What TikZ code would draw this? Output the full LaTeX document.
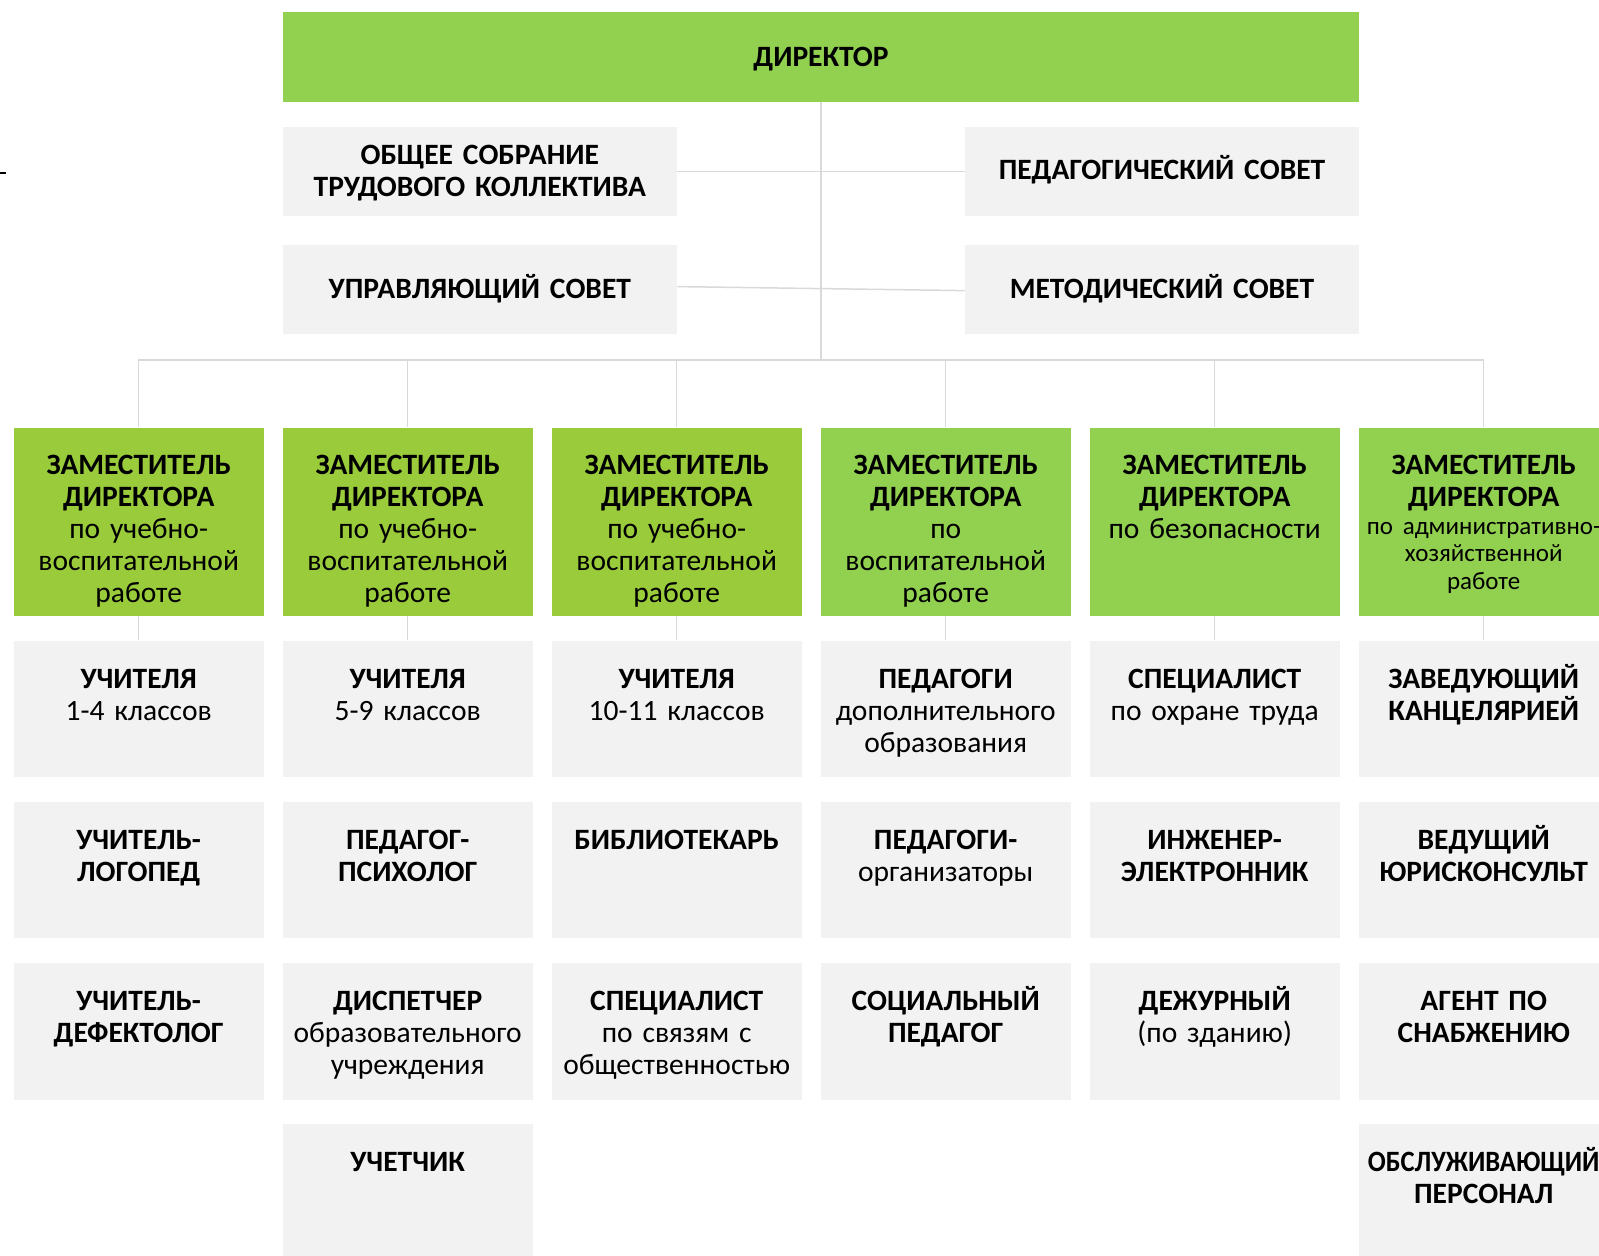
\documentclass[tikz,border=0pt]{standalone}
\usepackage{fontspec}
\setmainfont{Carlito}
\usepackage{tikz}
\usepackage{graphicx}
\definecolor{dirgreen}{HTML}{92D050}
\definecolor{depgreen}{HTML}{9ACB3B}
\definecolor{boxgrey}{HTML}{F2F2F2}
\definecolor{linegrey}{HTML}{D9D9D9}

\begin{document}
\begin{tikzpicture}[x=1pt, y=-1pt,
		top_style/.style={rectangle,fill=boxgrey,text width=394.6pt,align=center,inner sep=0pt,text height=53.3pt,text depth=36.4pt,font=\bfseries\fontsize{29.5}{32}\selectfont},
		top_style2/.style={top_style,text height=38pt,text depth=51.7pt},
		dir_style/.style={top_style,fill=dirgreen,text width=1076.9pt,text height=54.4pt,text depth=35.4pt},
		dep_style/.style={rectangle,fill=depgreen,anchor=north,text width=249.9pt,align=center,inner sep=0pt,text height=47pt,text depth=141.7pt,font=\fontsize{29.5}{32}\selectfont},
		dep_style1/.style={dep_style,fill=dirgreen},
		sub_style/.style={rectangle,fill=boxgrey,anchor=north,text width=249.9pt,align=center,inner sep=0pt,text height=48pt,text depth=88.7pt,font=\fontsize{29.5}{32}\selectfont},
		edge_style/.style={draw=linegrey,line width=1.5pt}]

	\useasboundingbox (0,0) rectangle (1599,1256);
	\clip (0,0) rectangle (1599,1256);

	\node[dir_style] (dir) at (821,57.1) {ДИРЕКТОР};
	\node[top_style2] (sob) at (479.8,171.4) {ОБЩЕЕ СОБРАНИЕ\\ТРУДОВОГО КОЛЛЕКТИВА};
	\node[top_style] (upr) at (479.8,289.6) {УПРАВЛЯЮЩИЙ СОВЕТ};
	\node[top_style] (ped) at (1162,171.4) {ПЕДАГОГИЧЕСКИЙ СОВЕТ};
	\node[top_style] (met) at (1162,289.6) {МЕТОДИЧЕСКИЙ СОВЕТ};
	\coordinate (bus) at (821,360);

	\node[dep_style] (d1) at (138.7,427.3) {\textbf{ЗАМЕСТИТЕЛЬ}\\\textbf{ДИРЕКТОРА}\\по учебно-\\воспитательной\\работе};
	\node[dep_style] (d2) at (407.7,427.3) {\textbf{ЗАМЕСТИТЕЛЬ}\\\textbf{ДИРЕКТОРА}\\по учебно-\\воспитательной\\работе};
	\node[dep_style] (d3) at (676.7,427.3) {\textbf{ЗАМЕСТИТЕЛЬ}\\\textbf{ДИРЕКТОРА}\\по учебно-\\воспитательной\\работе};
	\node[dep_style1] (d4) at (945.7,427.3) {\textbf{ЗАМЕСТИТЕЛЬ}\\\textbf{ДИРЕКТОРА}\\по\\воспитательной\\работе};
	\node[dep_style1] (d5) at (1214.7,427.3) {\textbf{ЗАМЕСТИТЕЛЬ}\\\textbf{ДИРЕКТОРА}\\по безопасности};
	\node[dep_style1,font=\fontsize{29.5}{27.5}\selectfont] (d6) at (1483.7,427.3) {\textbf{ЗАМЕСТИТЕЛЬ}\\[4.5pt]\textbf{ДИРЕКТОРА}\\{\fontsize{25}{27.5}\selectfont по административно-\\хозяйственной\\работе}};

	\node[sub_style] (s11) at (138.7,640.4) {\textbf{УЧИТЕЛЯ}\\1-4 классов};
	\node[sub_style] (s12) at (138.7,801.5) {\textbf{УЧИТЕЛЬ-}\\\textbf{ЛОГОПЕД}};
	\node[sub_style] (s13) at (138.7,962.6) {\textbf{УЧИТЕЛЬ-}\\\textbf{ДЕФЕКТОЛОГ}};
	\node[sub_style] (s21) at (407.7,640.4) {\textbf{УЧИТЕЛЯ}\\5-9 классов};
	\node[sub_style] (s22) at (407.7,801.5) {\textbf{ПЕДАГОГ-}\\\textbf{ПСИХОЛОГ}};
	\node[sub_style] (s23) at (407.7,962.6) {\textbf{ДИСПЕТЧЕР}\\образовательного\\учреждения};
	\node[sub_style] (s24) at (407.7,1123.7) {\textbf{УЧЕТЧИК}};
	\node[sub_style] (s31) at (676.7,640.4) {\textbf{УЧИТЕЛЯ}\\10-11 классов};
	\node[sub_style] (s32) at (676.7,801.5) {\textbf{БИБЛИОТЕКАРЬ}};
	\node[sub_style] (s33) at (676.7,962.6) {\textbf{СПЕЦИАЛИСТ}\\по связям с\\общественностью};
	\node[sub_style] (s41) at (945.7,640.4) {\textbf{ПЕДАГОГИ}\\дополнительного\\образования};
	\node[sub_style] (s42) at (945.7,801.5) {\textbf{ПЕДАГОГИ-}\\организаторы};
	\node[sub_style] (s43) at (945.7,962.6) {\textbf{СОЦИАЛЬНЫЙ}\\\textbf{ПЕДАГОГ}};
	\node[sub_style] (s51) at (1214.7,640.4) {\textbf{СПЕЦИАЛИСТ}\\по охране труда};
	\node[sub_style] (s52) at (1214.7,801.5) {\textbf{ИНЖЕНЕР-}\\\textbf{ЭЛЕКТРОННИК}};
	\node[sub_style] (s53) at (1214.7,962.6) {\textbf{ДЕЖУРНЫЙ}\\(по зданию)};
	\node[sub_style] (s61) at (1483.7,640.4) {\textbf{ЗАВЕДУЮЩИЙ}\\\textbf{КАНЦЕЛЯРИЕЙ}};
	\node[sub_style] (s62) at (1483.7,801.5) {\textbf{ВЕДУЩИЙ}\\\textbf{ЮРИСКОНСУЛЬТ}};
	\node[sub_style] (s63) at (1483.7,962.6) {\textbf{АГЕНТ ПО}\\\textbf{СНАБЖЕНИЮ}};
	\node[sub_style] (s64) at (1483.7,1123.7) {\makebox[\linewidth]{\scalebox{0.9}[1]{\textbf{ОБСЛУЖИВАЮЩИЙ}}}\\\textbf{ПЕРСОНАЛ}};

	\draw[edge_style] (dir) -- (bus);
	\draw[edge_style] (sob) -- (ped);
	\draw[edge_style] ([yshift=3pt]upr.east) -- ([yshift=-1pt]met.west);
	\draw[edge_style] (bus) -| (d1.north);
	\draw[edge_style] (bus) -| (d2.north);
	\draw[edge_style] (bus) -| (d3.north);
	\draw[edge_style] (bus) -| (d4.north);
	\draw[edge_style] (bus) -| (d5.north);
	\draw[edge_style] (bus) -| (d6.north);
	\draw[edge_style] (d1) -- (s11);
	\draw[edge_style] (d2) -- (s21);
	\draw[edge_style] (d3) -- (s31);
	\draw[edge_style] (d4) -- (s41);
	\draw[edge_style] (d5) -- (s51);
	\draw[edge_style] (d6) -- (s61);

	\draw[line width=2pt] (0,172.5) -- (6,172.5);
\end{tikzpicture}
\end{document}
